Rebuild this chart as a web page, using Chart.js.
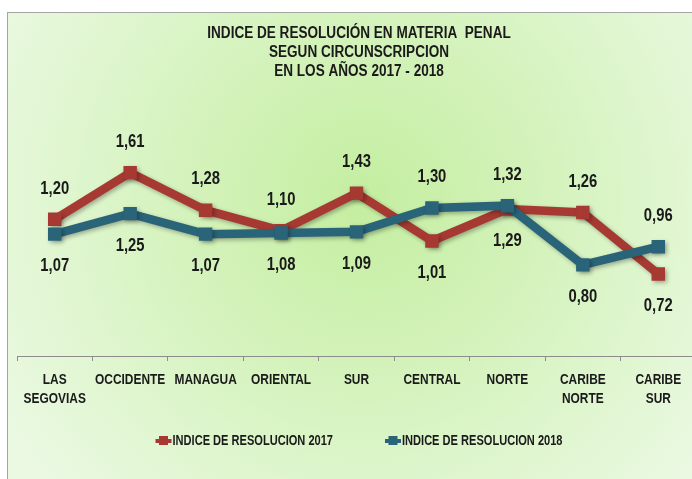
<!DOCTYPE html>
<html>
<head>
<meta charset="utf-8">
<script src="https://cdn.jsdelivr.net/npm/chart.js@4.4.1/dist/chart.umd.min.js"></script>
<style>
    body { margin: 0; overflow: hidden; background: #ffffff; }
    #wrap { width: 710px; height: 479px; }
</style>
</head>
<body>
<div id="wrap"><canvas id="chart1" width="710" height="479"></canvas></div>
<script>
// data
var circunscripciones = [["LAS", "SEGOVIAS"], "OCCIDENTE", "MANAGUA", "ORIENTAL", "SUR", "CENTRAL", "NORTE", ["CARIBE", "NORTE"], ["CARIBE", "SUR"]];
var indice2017 = [1.20, 1.61, 1.28, 1.10, 1.43, 1.01, 1.29, 1.26, 0.72];
var indice2018 = [1.07, 1.25, 1.07, 1.08, 1.09, 1.30, 1.32, 0.80, 0.96];
var serieNames = ["INDICE DE RESOLUCION 2017", "INDICE DE RESOLUCION 2018"];
var titleLines = ["INDICE DE RESOLUCIÓN EN MATERIA  PENAL", "SEGUN CIRCUNSCRIPCION", "EN LOS AÑOS 2017 - 2018"];

// where each value label sits (above / below its point)
var labelPos2017 = ["top", "top", "top", "top", "top", "bottom", "bottom", "top", "bottom"];
var labelPos2018 = ["bottom", "bottom", "bottom", "bottom", "bottom", "top", "top", "bottom", "top"];

var red = "#a63a32";
var blue = "#2a6479";
var textColour = "#1a1a1a";
var centerX = 359;
//no narrow font installed, so squeeze Liberation Sans like Arial Narrow
var narrow = 0.78;

function narrowText(ctx, text, x, y, size, align) {
    ctx.save();
    ctx.translate(x, y);
    ctx.scale(narrow, 1);
    ctx.font = "bold " + size + "px 'Liberation Sans', Arial, sans-serif";
    ctx.fillStyle = textColour;
    ctx.textAlign = align || "center";
    ctx.textBaseline = "middle";
    ctx.fillText(text, 0, 0);
    ctx.restore();
}

function narrowWidth(ctx, text, size) {
    ctx.save();
    ctx.font = "bold " + size + "px 'Liberation Sans', Arial, sans-serif";
    var w = ctx.measureText(text).width * narrow;
    ctx.restore();
    return w;
}

var backgroundPlugin = {
    id: "background",
    beforeDraw: function (chart) {
        var ctx = chart.ctx;
        ctx.save();
        ctx.fillStyle = "#ffffff";
        ctx.fillRect(0, 0, chart.width, chart.height);
        var grad = ctx.createRadialGradient(365, 200, 0, 365, 200, 430);
        grad.addColorStop(0, "#c4eea0");
        grad.addColorStop(1, "#ebf9e3");
        ctx.fillStyle = grad;
        ctx.fillRect(7, 12, chart.width, chart.height);
        ctx.strokeStyle = "#a5a5a5";
        ctx.lineWidth = 1;
        ctx.strokeRect(7.5, 12.5, chart.width, chart.height);
        ctx.restore();
    }
};

//soft shadow under the lines
var shadowPlugin = {
    id: "lineShadow",
    beforeDatasetDraw: function (chart) {
        var ctx = chart.ctx;
        ctx.save();
        ctx.shadowColor = "rgba(0,0,0,0.3)";
        ctx.shadowBlur = 4;
        ctx.shadowOffsetX = 2;
        ctx.shadowOffsetY = 2;
    },
    afterDatasetDraw: function (chart) {
        chart.ctx.restore();
    }
};

var valueLabelPlugin = {
    id: "valueLabels",
    afterDatasetsDraw: function (chart) {
        var ctx = chart.ctx;
        var positions = [labelPos2017, labelPos2018];
        chart.data.datasets.forEach(function (ds, i) {
            var meta = chart.getDatasetMeta(i);
            meta.data.forEach(function (pt, j) {
                var y = positions[i][j] === "top" ? pt.y - 31 : pt.y + 32;
                narrowText(ctx, ds.data[j].toFixed(2).replace(".", ","), pt.x, y, 19);
            });
        });
    }
};

//category names drawn under the axis, at the scale's own positions
var categoryPlugin = {
    id: "categoryLabels",
    afterDraw: function (chart) {
        var ctx = chart.ctx;
        var xScale = chart.scales.x;
        circunscripciones.forEach(function (lbl, i) {
            var x = xScale.getPixelForValue(i);
            var lines = Array.isArray(lbl) ? lbl : [lbl];
            lines.forEach(function (line, k) {
                narrowText(ctx, line, x, 380 + k * 19, 15.3);
            });
        });
    }
};

var titlePlugin = {
    id: "chartTitle",
    afterDraw: function (chart) {
        var ctx = chart.ctx;
        titleLines.forEach(function (line, i) {
            narrowText(ctx, line, centerX, 33 + i * 19, 17.4);
        });
    }
};

var legendPlugin = {
    id: "bottomLegend",
    afterDraw: function (chart) {
        var ctx = chart.ctx;
        var colours = [red, blue];
        var markW = 17;
        var gap = 52;
        var size = 14.2;
        var widths = serieNames.map(function (n) { return narrowWidth(ctx, n, size); });
        var total = markW * 2 + widths[0] + widths[1] + gap;
        var x = centerX - total / 2;
        var y = 441;
        serieNames.forEach(function (name, i) {
            ctx.save();
            ctx.fillStyle = colours[i];
            ctx.fillRect(x, y - 2, markW - 1, 4);
            ctx.fillRect(x + markW / 2 - 5, y - 5, 9, 9);
            ctx.restore();
            narrowText(ctx, name, x + markW, y, size, "left");
            x += markW + widths[i] + gap;
        });
    }
};

function drawChart() {
    var ctx = document.getElementById("chart1");
    new Chart(ctx, {
        type: "line",
        data: {
            labels: circunscripciones,
            datasets: [
                {
                    label: serieNames[0],
                    data: indice2017,
                    borderColor: red,
                    backgroundColor: red,
                    borderWidth: 8.5,
                    pointStyle: "rect",
                    pointRadius: 3.5,
                    order: 1
                },
                {
                    label: serieNames[1],
                    data: indice2018,
                    borderColor: blue,
                    backgroundColor: blue,
                    borderWidth: 8.5,
                    pointStyle: "rect",
                    pointRadius: 3.5,
                    order: 0
                }
            ]
        },
        options: {
            responsive: false,
            animation: false,
            devicePixelRatio: 1,
            layout: { padding: { left: 17, right: 14, top: 151, bottom: 0 } },
            plugins: {
                legend: { display: false },
                title: { display: false },
                tooltip: { enabled: false }
            },
            scales: {
                x: {
                    offset: true,
                    grid: {
                        display: true,
                        drawOnChartArea: false,
                        drawTicks: true,
                        tickLength: 5,
                        color: "#8c8c8c",
                        offset: true
                    },
                    border: { display: true, color: "#8c8c8c", width: 1 },
                    ticks: { display: false },
                    afterFit: function (scale) {
                        scale.height = 123;
                    }
                },
                y: {
                    display: false,
                    min: 0,
                    max: 1.8
                }
            }
        },
        plugins: [backgroundPlugin, shadowPlugin, valueLabelPlugin, categoryPlugin, titlePlugin, legendPlugin]
    });
}

drawChart();
</script>
</body>
</html>
